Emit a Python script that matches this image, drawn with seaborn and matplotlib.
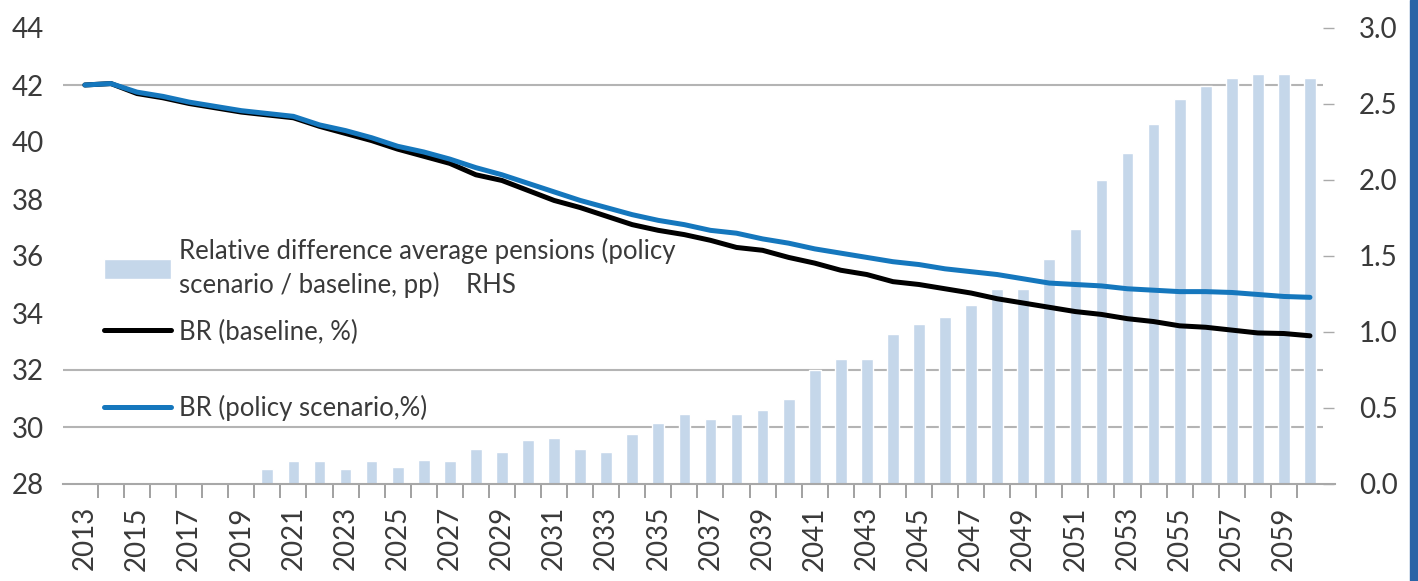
import numpy as np
import pandas as pd
import matplotlib
matplotlib.use('Agg')
import matplotlib.pyplot as plt
import matplotlib.transforms as mtransforms
from matplotlib.patches import Rectangle
import seaborn as sns

sns.set_style('white')
plt.rcParams['font.family'] = ['Lato', 'DejaVu Sans']

# Dữ liệu
years = list(range(2013, 2061))

rel_diff = [0.00, 0.00, 0.01, 0.00, 0.00, 0.00, 0.01, 0.10, 0.15, 0.15,
            0.10, 0.15, 0.11, 0.16, 0.15, 0.23, 0.21, 0.29, 0.30, 0.23,
            0.21, 0.33, 0.40, 0.46, 0.43, 0.46, 0.49, 0.56, 0.75, 0.82,
            0.82, 0.99, 1.05, 1.10, 1.18, 1.28, 1.28, 1.48, 1.68, 2.00,
            2.18, 2.37, 2.53, 2.62, 2.67, 2.70, 2.70, 2.67]

br_baseline = [42.00, 42.05, 41.70, 41.55, 41.35, 41.20, 41.05, 40.95, 40.85, 40.55,
               40.30, 40.05, 39.75, 39.50, 39.25, 38.85, 38.65, 38.30, 37.95, 37.70,
               37.40, 37.10, 36.90, 36.75, 36.55, 36.30, 36.20, 35.95, 35.75, 35.50,
               35.35, 35.10, 35.00, 34.85, 34.70, 34.50, 34.35, 34.20, 34.05, 33.95,
               33.80, 33.70, 33.55, 33.50, 33.40, 33.30, 33.28, 33.20]

br_policy = [42.00, 42.05, 41.75, 41.60, 41.40, 41.25, 41.10, 41.00, 40.90, 40.60,
             40.40, 40.15, 39.85, 39.65, 39.40, 39.10, 38.85, 38.55, 38.25, 37.95,
             37.70, 37.45, 37.25, 37.10, 36.90, 36.80, 36.60, 36.45, 36.25, 36.10,
             35.95, 35.80, 35.70, 35.55, 35.45, 35.35, 35.20, 35.05, 35.00, 34.95,
             34.85, 34.80, 34.75, 34.75, 34.72, 34.65, 34.58, 34.55]

left_ticks = [28, 30, 32, 34, 36, 38, 40, 42, 44]
right_ticks = [0.0, 0.5, 1.0, 1.5, 2.0, 2.5, 3.0]
grid_levels = [30, 32, 42]
year_labels = [y for y in years if (y - 2013) % 2 == 0]

label_bar = 'Relative difference average pensions (policy\nscenario / baseline, pp)    RHS'
label_base = 'BR (baseline, %)'
label_policy = 'BR (policy scenario,%)'

df = pd.DataFrame({'year': years, 'rel_diff': rel_diff,
                   'baseline': br_baseline, 'policy': br_policy})

BAR_C = '#c5d7ea'
BLUE_C = '#1577bd'
TXT_C = '#3a3a3a'

fig = plt.figure(figsize=(14.18, 5.81), dpi=100)
ax = fig.add_axes([63 / 1418, 97 / 581, 1260 / 1418, 456 / 581])
ax2 = ax.twinx()

# cột (trục phải) nằm dưới, đường (trục trái) nằm trên
ax.set_zorder(ax2.get_zorder() + 1)
ax.patch.set_visible(False)

sns.barplot(data=df, x='year', y='rel_diff', native_scale=True, color=BAR_C,
            width=0.45, saturation=1, ax=ax2, zorder=2)

# đường lưới ngang theo thang trục trái
trans = mtransforms.blended_transform_factory(ax2.transAxes, ax.transData)
for g in grid_levels:
    ax2.plot([0, 1], [g, g], transform=trans, color='#b4b4b4', lw=1.5, zorder=0)

sns.lineplot(data=df, x='year', y='baseline', color='black', lw=3.6, ax=ax, zorder=3)
sns.lineplot(data=df, x='year', y='policy', color=BLUE_C, lw=3.6, ax=ax, zorder=4)

ax.set_xlim(2012.16, 2060.5)
ax.set_ylim(28, 44)
ax2.set_ylim(0, 3.0)

ax.set_yticks(left_ticks)
ax.set_yticklabels([str(t) for t in left_ticks])
ax2.set_yticks(right_ticks)
ax2.set_yticklabels([f'{t:.1f}' for t in right_ticks])

ax.set_xticks(year_labels)
ax.set_xticklabels([str(y) for y in year_labels], rotation=90)
ax.set_xticks([y + 0.5 for y in years[:-1]], minor=True)

ax.set_xlabel('')
ax.set_ylabel('')
ax2.set_xlabel('')
ax2.set_ylabel('')

ax.tick_params(axis='y', length=0, pad=14, labelsize=20, labelcolor=TXT_C)
ax.tick_params(axis='x', which='major', bottom=True, length=0, pad=16, labelsize=20, labelcolor=TXT_C)
ax.tick_params(axis='x', which='minor', bottom=True, length=10, width=1.3, color='#9a9a9a', direction='out')
ax2.tick_params(axis='y', right=True, length=8, width=1, color='#aaaaaa', pad=18, labelsize=20, labelcolor=TXT_C)

for a in (ax, ax2):
    for s in ('top', 'left', 'right'):
        a.spines[s].set_visible(False)
ax.spines['bottom'].set_color('#a8a8a8')
ax.spines['bottom'].set_linewidth(1.5)
ax.spines['bottom'].set_bounds(2012.16, 2060.95)
ax2.spines['bottom'].set_visible(False)

# chú thích
h_bar = ax2.patches[0]
h_base, h_pol = ax.get_lines()[0], ax.get_lines()[1]
leg1 = ax.legend([h_bar, h_base], [label_bar, label_base], loc='upper left',
                 bbox_to_anchor=(104 / 1418, 1 - 238 / 581), bbox_transform=fig.transFigure,
                 frameon=False, fontsize=18.5, handlelength=2.6, handleheight=0.8,
                 handletextpad=0.3, borderpad=0, borderaxespad=0, labelspacing=0.85,
                 labelcolor=TXT_C)
for t in leg1.get_texts():
    t.set_linespacing(1.35)
ax.add_artist(leg1)
leg2 = ax.legend([h_pol], [label_policy], loc='center left',
                 bbox_to_anchor=(104 / 1418, 1 - 408 / 581), bbox_transform=fig.transFigure,
                 frameon=False, fontsize=18.5, handlelength=2.6, handletextpad=0.3,
                 borderpad=0, borderaxespad=0, labelcolor=TXT_C)

# viền xanh bên phải
fig.patches.append(Rectangle((1410 / 1418, 0), 8 / 1418, 1, transform=fig.transFigure,
                             color='#2a64a6', zorder=10))

fig.savefig('out.png', dpi=100)
